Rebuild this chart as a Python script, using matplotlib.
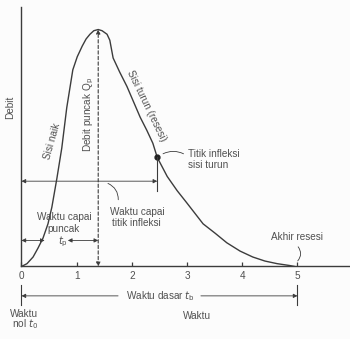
import matplotlib
matplotlib.use("Agg")
import matplotlib.pyplot as plt

# hydrograph (time in hours, discharge relative to peak)
waktu = [0.0, 0.10, 0.21, 0.30, 0.39, 0.48, 0.55, 0.64, 0.73, 0.82, 0.93,
         1.01, 1.10, 1.17, 1.24, 1.31, 1.39, 1.46, 1.55, 1.60, 1.66, 1.78,
         1.91, 2.03, 2.15, 2.27, 2.38, 2.46, 2.64, 2.82, 2.99, 3.29, 3.51,
         3.72, 3.96, 4.19, 4.41, 4.63, 4.86, 4.95]
debit = [0.0, 0.012, 0.04, 0.078, 0.12, 0.18, 0.25, 0.37, 0.50, 0.67, 0.83,
         0.885, 0.93, 0.96, 0.98, 0.995, 1.00, 0.995, 0.98, 0.955, 0.88, 0.82,
         0.76, 0.695, 0.63, 0.575, 0.52, 0.46, 0.38, 0.32, 0.27, 0.18, 0.14,
         0.10, 0.065, 0.04, 0.023, 0.012, 0.004, 0.0]
ticks = [0, 1, 2, 3, 4, 5, 6]
t_puncak = 1.39
t_infleksi = 2.46
q_infleksi = 0.46
t_dasar = 5.0

plt.rcParams['font.family'] = ['Liberation Sans', 'DejaVu Sans']
txt = '#505050'
ln = '#3c3c3c'
fs = 7.2

fig = plt.figure(figsize=(3.5, 3.39), dpi=100, facecolor='#fcfcfc')
ax = fig.add_axes([0.0614, 0.2139, 0.962, 0.764])
ax.set_facecolor('none')
ax.set_xlim(0, 6.1)
ax.set_ylim(0, 1.093)
for s in ['top', 'right']:
    ax.spines[s].set_visible(False)
for s in ['left', 'bottom']:
    ax.spines[s].set_color(ln)
    ax.spines[s].set_linewidth(1.0)
ax.set_yticks([])
ax.set_xticks(ticks)
ax.set_xticklabels([str(t) for t in ticks])
ax.tick_params(axis='x', direction='in', length=3, width=0.9, color=ln,
               labelsize=fs, labelcolor=txt, pad=3)

# the curve
ax.plot(waktu, debit, color=ln, lw=1.0, solid_joinstyle='round')
ax.plot([t_infleksi], [q_infleksi], 'o', color='#222222', ms=3.5)

ak = dict(arrowstyle='<|-|>', color=ln, lw=0.7, mutation_scale=6,
          shrinkA=0, shrinkB=0)

# peak discharge (dashed)
ax.annotate('', xy=(t_puncak, 1.0), xytext=(t_puncak, 0.0),
            arrowprops=dict(ak, linestyle=(0, (3, 2)), lw=0.8))
ax.text(t_puncak - 0.17, 0.64, 'Debit puncak Q$_\\mathrm{p}$', rotation=90,
        ha='center', va='center', fontsize=fs, color=txt)

# time to inflection point
ax.annotate('', xy=(0, 0.36), xytext=(t_infleksi, 0.36),
            arrowprops=dict(ak, lw=0.6))
ax.plot([t_infleksi, t_infleksi], [q_infleksi, 0.32], color=ln, lw=0.8)
ax.text(2.09, 0.232, 'Waktu capai', ha='center', va='center',
        fontsize=fs, color=txt)
ax.text(2.09, 0.185, 'titik infleksi', ha='center', va='center',
        fontsize=fs, color=txt)
ax.annotate('', xy=(1.52, 0.355), xytext=(1.75, 0.27),
            arrowprops=dict(arrowstyle='-', color=ln, lw=0.6,
                            connectionstyle='arc3,rad=0.4'))

# time to peak
ax.annotate('', xy=(0, 0.11), xytext=(0.42, 0.11), arrowprops=dict(ak, lw=0.6))
ax.annotate('', xy=(0.84, 0.11), xytext=(t_puncak, 0.11),
            arrowprops=dict(ak, lw=0.6))
ax.text(0.77, 0.207, 'Waktu capai', ha='center', va='center',
        fontsize=fs, color=txt)
ax.text(0.77, 0.158, 'puncak', ha='center', va='center',
        fontsize=fs, color=txt)
ax.text(0.75, 0.103, '$t_\\mathrm{p}$', ha='center', va='center',
        fontsize=fs, color=txt)

# limb labels
ax.text(0.55, 0.53, 'Sisi naik', rotation=74, ha='center', va='center',
        fontsize=fs, color=txt)
ax.text(2.27, 0.68, 'Sisi turun (resesi)', rotation=-64, ha='center',
        va='center', fontsize=fs, color=txt)

# inflection label
ax.text(3.02, 0.475, 'Titik infleksi', ha='left', va='center',
        fontsize=fs, color=txt)
ax.text(3.02, 0.43, 'sisi turun', ha='left', va='center',
        fontsize=fs, color=txt)
ax.annotate('', xy=(2.52, 0.47), xytext=(2.98, 0.47),
            arrowprops=dict(arrowstyle='-', color=ln, lw=0.6,
                            connectionstyle='arc3,rad=0.3'))

# end of recession
ax.text(4.99, 0.125, 'Akhir resesi', ha='center', va='center',
        fontsize=fs, color=txt)
ax.annotate('', xy=(4.98, 0.092), xytext=(4.97, 0.015),
            arrowprops=dict(arrowstyle='-', color=ln, lw=0.6,
                            connectionstyle='arc3,rad=0.5'))

ax.text(-0.21, 0.67, 'Debit', rotation=90, ha='center', va='center',
        fontsize=fs, color=txt)

# below the axis: base time
yb = -0.124
ax.annotate('', xy=(0, yb), xytext=(1.75, yb), annotation_clip=False,
            arrowprops=dict(arrowstyle='-|>', color=ln, lw=0.6,
                            mutation_scale=6, shrinkA=0, shrinkB=0))
ax.annotate('', xy=(t_dasar, yb), xytext=(3.25, yb), annotation_clip=False,
            arrowprops=dict(arrowstyle='-|>', color=ln, lw=0.6,
                            mutation_scale=6, shrinkA=0, shrinkB=0))
ax.plot([0, 0], [-0.078, -0.162], color=ln, lw=0.8, clip_on=False)
ax.plot([t_dasar, t_dasar], [-0.078, -0.162], color=ln, lw=0.8, clip_on=False)
ax.text(2.51, yb, 'Waktu dasar $t_\\mathrm{b}$', ha='center', va='center',
        fontsize=fs, color=txt)
ax.text(0.05, -0.2, 'Waktu', ha='center', va='center', fontsize=fs, color=txt)
ax.text(0.06, -0.245, 'nol $t_0$', ha='center', va='center', fontsize=fs,
        color=txt)
ax.text(3.18, -0.21, 'Waktu', ha='center', va='center', fontsize=fs, color=txt)

fig.savefig('out.png', dpi=100, facecolor=fig.get_facecolor())
